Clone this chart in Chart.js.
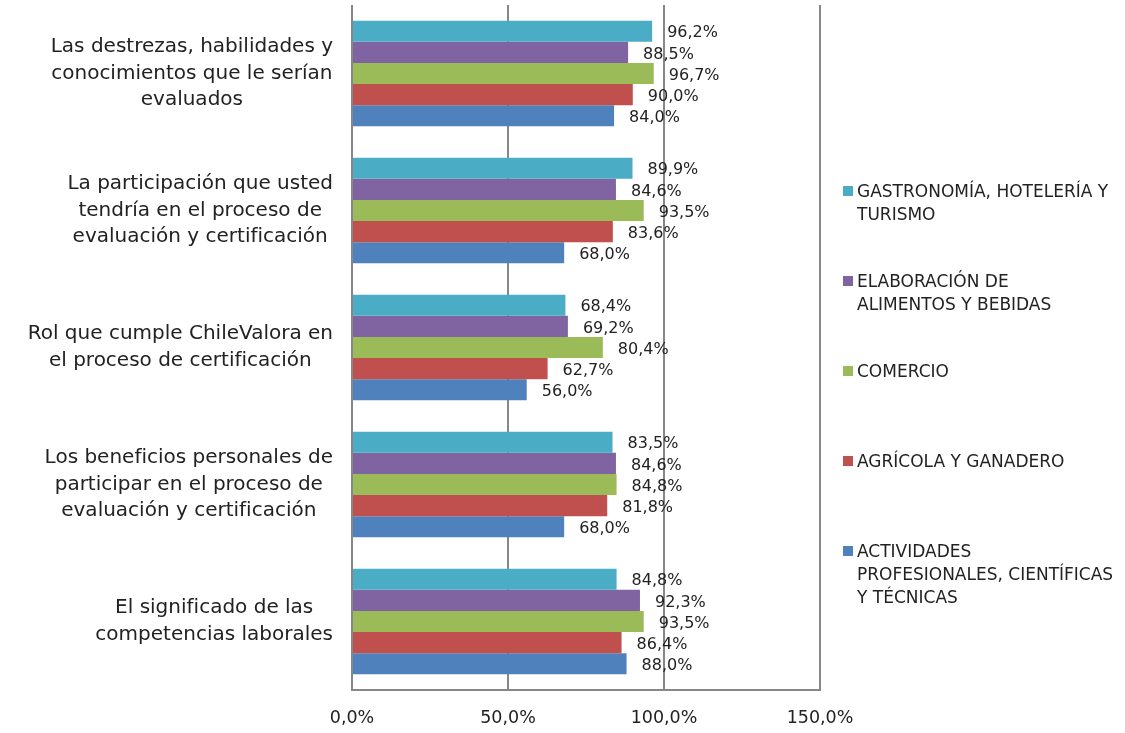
<!DOCTYPE html>
<html lang="es">
<head>
    <meta charset="UTF-8">
    <title>Conocimiento del proceso de certificación por sector</title>
    <script src="https://cdn.jsdelivr.net/npm/chart.js"></script>
    <style>
        body { margin: 0; background: #fff; font-family: "DejaVu Sans", sans-serif; }
        #wrap { position: relative; width: 1125px; height: 733px; }
        #leyenda { position: absolute; left: 843px; top: 0; width: 282px; }
        .item { position: absolute; left: 0; width: 282px; font-size: 17px; line-height: 23px; color: #222; white-space: nowrap; }
        .item span.cuadro { position: absolute; left: 0; top: 6px; width: 10px; height: 10px; }
        .item div { margin-left: 14px; }
    </style>
</head>
<body>
<div id="wrap">
    <canvas id="grafico" width="1125" height="733"></canvas>
    <div id="leyenda"></div>
</div>
<script>
    // categorías (en líneas, como en el original)
    const categorias = [
        ['Las destrezas, habilidades y', 'conocimientos que le serían', 'evaluados'],
        ['La participación que usted', 'tendría en el proceso de', 'evaluación y certificación'],
        ['Rol que cumple ChileValora en', 'el proceso de certificación'],
        ['Los beneficios personales de', 'participar en el proceso de', 'evaluación y certificación'],
        ['El significado de las', 'competencias laborales']
    ];

    // series (en líneas, como en la leyenda original)
    const series = [
        ['GASTRONOMÍA, HOTELERÍA Y', 'TURISMO'],
        ['ELABORACIÓN DE', 'ALIMENTOS Y BEBIDAS'],
        ['COMERCIO'],
        ['AGRÍCOLA Y GANADERO'],
        ['ACTIVIDADES', 'PROFESIONALES, CIENTÍFICAS', 'Y TÉCNICAS']
    ];
    const colores = ['#4BACC6', '#8064A2', '#9BBB59', '#C0504D', '#4F81BD'];

    // valores en %
    const gastronomia = [96.2, 89.9, 68.4, 83.5, 84.8];
    const elaboracion = [88.5, 84.6, 69.2, 84.6, 92.3];
    const comercio    = [96.7, 93.5, 80.4, 84.8, 93.5];
    const agricola    = [90.0, 83.6, 62.7, 81.8, 86.4];
    const actividades = [84.0, 68.0, 56.0, 68.0, 88.0];
    const valores = [gastronomia, elaboracion, comercio, agricola, actividades];

    const ticksX = [0, 50, 100, 150];

    const fmt = v => v.toFixed(1).replace('.', ',') + '%';
    const fuente = '"DejaVu Sans", sans-serif';

    // etiquetas de datos al final de cada barra
    const etiquetasDatos = {
        id: 'etiquetasDatos',
        afterDatasetsDraw(chart) {
            const ctx = chart.ctx;
            ctx.save();
            ctx.font = '16px ' + fuente;
            ctx.fillStyle = '#222';
            ctx.textAlign = 'left';
            ctx.textBaseline = 'middle';
            chart.data.datasets.forEach((ds, i) => {
                chart.getDatasetMeta(i).data.forEach((bar, j) => {
                    ctx.fillText(fmt(ds.data[j]), bar.x + 15, bar.y + 2);
                });
            });
            ctx.restore();
        }
    };

    // etiquetas de categoría centradas en bloque, alineadas al eje
    const etiquetasCat = {
        id: 'etiquetasCat',
        afterDraw(chart) {
            const ctx = chart.ctx;
            const y = chart.scales.y;
            const derecha = chart.chartArea.left - 19;
            const alto = 26.5;
            ctx.save();
            ctx.font = '20px ' + fuente;
            ctx.fillStyle = '#222';
            ctx.textAlign = 'center';
            ctx.textBaseline = 'middle';
            categorias.forEach((lineas, i) => {
                const ancho = Math.max(...lineas.map(l => ctx.measureText(l).width));
                const cx = derecha - ancho / 2;
                const cy = y.getPixelForValue(i) - (lineas.length - 1) * alto / 2;
                lineas.forEach((l, k) => ctx.fillText(l, cx, cy + k * alto));
            });
            ctx.restore();
        }
    };

    const ctx = document.getElementById('grafico').getContext('2d');
    const grafico = new Chart(ctx, {
        type: 'bar',
        data: {
            labels: categorias.map(c => c.join(' ')),
            datasets: series.map((s, i) => ({
                label: s.join(' '),
                data: valores[i],
                backgroundColor: colores[i],
                borderWidth: 0,
                barPercentage: 1,
                categoryPercentage: 0.77
            }))
        },
        options: {
            indexAxis: 'y',
            responsive: false,
            animation: false,
            layout: { padding: { top: 5, right: 305, left: 0, bottom: 0 } },
            plugins: {
                legend: { display: false },
                tooltip: { enabled: false }
            },
            scales: {
                x: {
                    min: 0,
                    max: 150,
                    afterBuildTicks: s => { s.ticks = ticksX.map(v => ({ value: v })); },
                    afterFit: s => { s.height = 43; },
                    ticks: {
                        callback: v => fmt(v),
                        font: { size: 17.5, family: fuente },
                        color: '#222',
                        padding: 18
                    },
                    grid: { color: '#878787', lineWidth: 2, drawTicks: false },
                    border: { color: '#878787', width: 2 }
                },
                y: {
                    afterFit: s => { s.width = 352; },
                    ticks: { display: false },
                    grid: { display: false },
                    border: { display: false }
                }
            }
        },
        plugins: [etiquetasDatos, etiquetasCat]
    });

    // leyenda HTML
    const leyenda = document.getElementById('leyenda');
    series.forEach((lineas, i) => {
        const it = document.createElement('div');
        it.className = 'item';
        it.style.top = (180 + i * 90) + 'px';
        it.innerHTML = '<span class="cuadro" style="background:' + colores[i] + '"></span><div>' + lineas.join('<br>') + '</div>';
        leyenda.appendChild(it);
    });
</script>
</body>
</html>
